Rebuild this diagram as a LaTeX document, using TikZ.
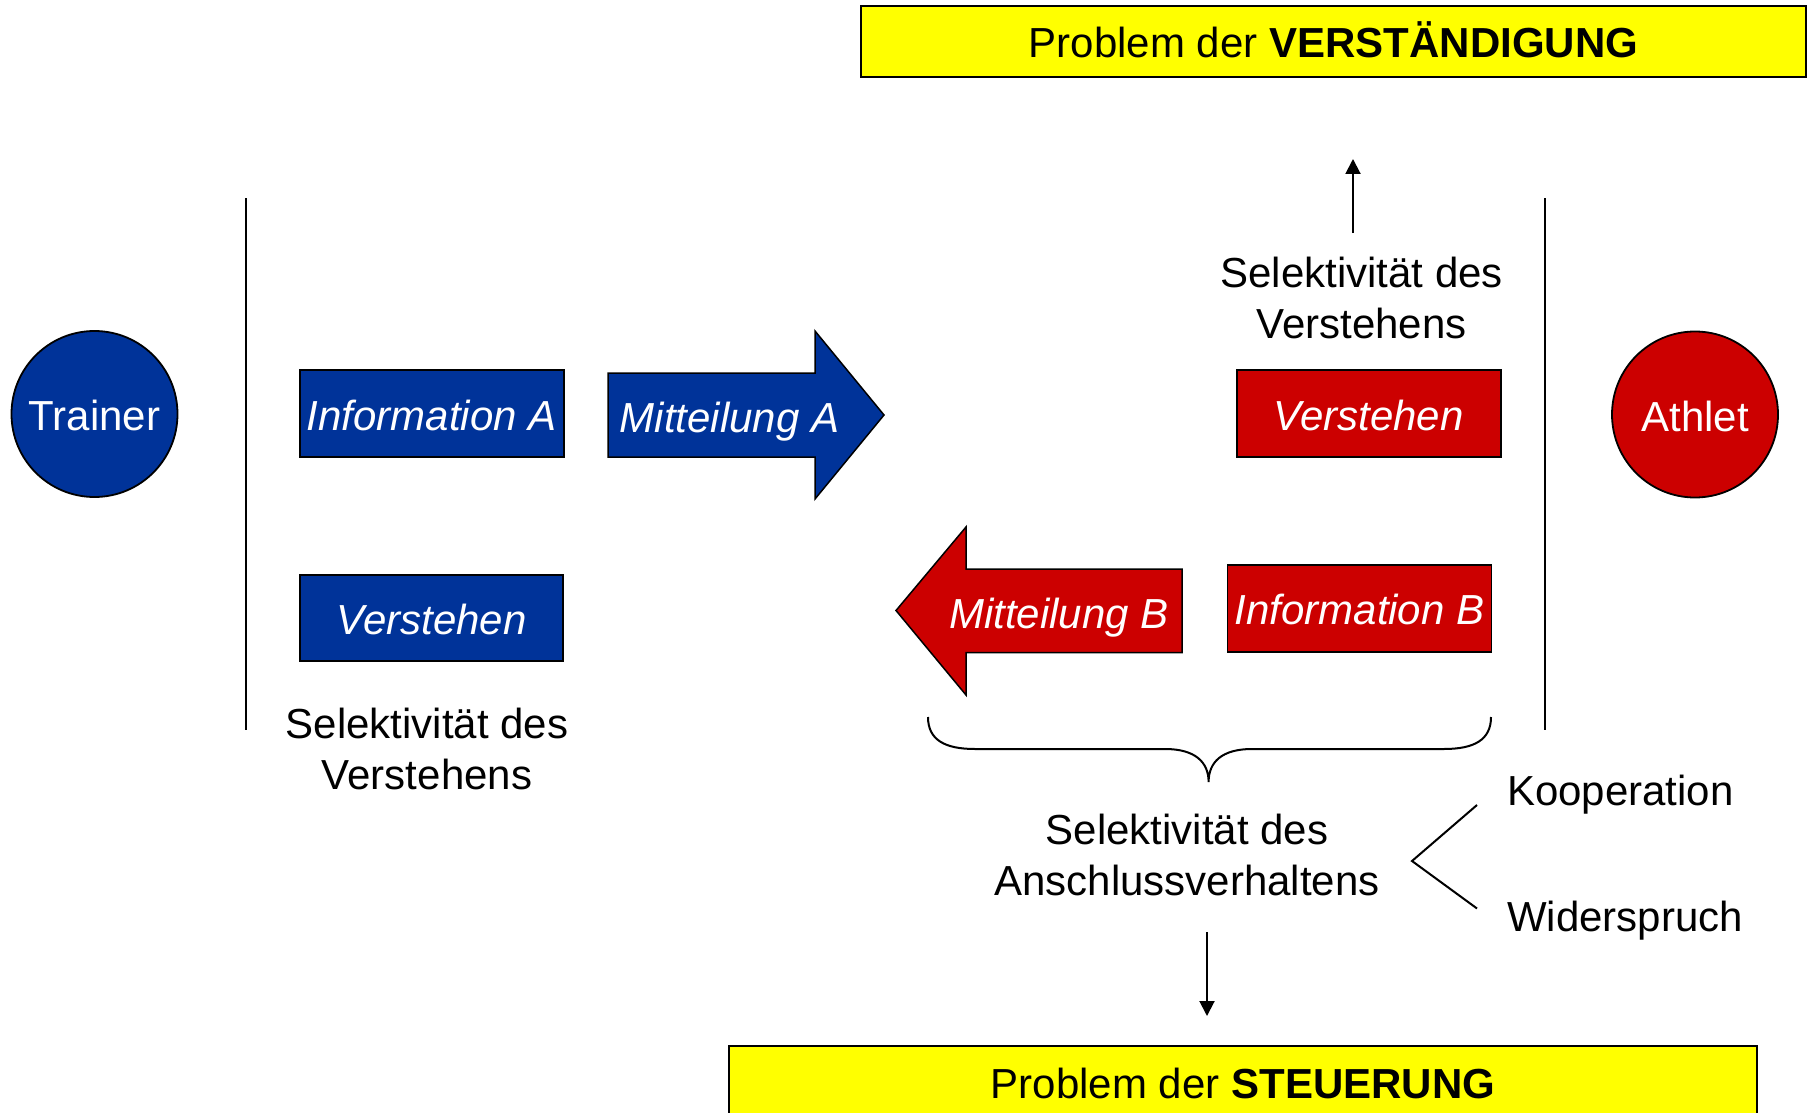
\documentclass[tikz,border=0pt]{standalone}
\usepackage{fontspec}
\setmainfont{Liberation Sans}
\usetikzlibrary{arrows.meta}
\definecolor{cblue}{RGB}{0,51,153}
\definecolor{cred}{RGB}{204,0,0}
\definecolor{cyel}{RGB}{255,255,0}
\begin{document}
\begin{tikzpicture}[x=1pt,y=-1pt,
  lbl/.style={font=\fontsize{42}{51}\selectfont, inner sep=0pt},
  single/.style={text height=33pt, text depth=0pt},
  box/.style={rectangle, draw=black, line width=1.8pt, inner sep=0pt,
    minimum width=264pt, minimum height=87pt, text=white, single,
    font=\fontsize{42}{51}\selectfont\itshape},
  circ/.style={circle, draw=black, line width=1.8pt, inner sep=0pt,
    minimum size=166pt, text=white, single, font=\fontsize{42}{51}\selectfont},
  ybox/.style={rectangle, draw=black, fill=cyel, line width=1.8pt, inner sep=0pt,
    minimum width=945pt, minimum height=71pt, single, font=\fontsize{42}{51}\selectfont},
  arrowshape/.style={draw=black, line width=1.5pt, line join=miter},
  ln/.style={draw=black, line width=2pt},
  arr/.style={ln, -{Triangle[length=15pt,width=15pt]}},
  atext/.style={inner sep=0pt, text=white, single, font=\fontsize{42}{51}\selectfont\itshape}
]
\useasboundingbox (0,0) rectangle (1808,1113);
\clip (0,0) rectangle (1808,1113);
\fill[white] (0,0) rectangle (1808,1113);

% top and bottom problem boxes
\node[ybox] (probV) at (1333.5,41.5) {Problem der \textbf{VERSTÄNDIGUNG}};
\node[ybox, minimum width=1028pt, minimum height=72pt] (probS) at (1243,1082) {Problem der \textbf{STEUERUNG}};

% actors
\node[circ, fill=cblue] (trainer) at (94.5,414) {Trainer};
\node[circ, fill=cred] (athlet) at (1695,414.5) {Athlet};

% separator lines
\coordinate (lT) at (245.6,198);
\coordinate (lB) at (245.6,730);
\coordinate (rT) at (1545,198);
\coordinate (rB) at (1545,730);
\draw[ln] (lT) -- (lB);
\draw[ln] (rT) -- (rB);

% trainer side
\node[box, fill=cblue] (infoA) at (431.7,413.5) {Information A};
\node[box, fill=cblue, minimum width=263pt, minimum height=86pt] (verA) at (431.5,618) {Verstehen};
\node[lbl, align=center] (selA) at (427,749) {Selektivität des\\Verstehens};

% Mitteilung A arrow
\fill[cblue, arrowshape] (608,373) -- (815,373) -- (815,331) -- (884,415) -- (815,499)
  -- (815,457) -- (608,457) -- cycle;
\node[atext] (mitA) at (729.5,415.5) {Mitteilung A};

% athlete side
\node[box, fill=cred] (verB) at (1368.6,413.5) {Verstehen};
\node[box, fill=cred] (infoB) at (1359.5,608.3) {Information B};
\node[lbl, align=center] (selB) at (1361.6,298) {Selektivität des\\Verstehens};

% Mitteilung B arrow
\fill[cred, arrowshape] (1182,569) -- (966,569) -- (966,527) -- (896,610.5) -- (966,695)
  -- (966,652.5) -- (1182,652.5) -- cycle;
\node[atext] (mitB) at (1059,611.5) {Mitteilung B};

% arrow up to Verstaendigung
\coordinate (upS) at (1353,233);
\coordinate (upE) at (1353,159);
\draw[arr] (upS) -- (upE);

% brace
\draw[ln] (928,717) .. controls (928,740) and (945,749) .. (975,749) -- (1165,749)
  .. controls (1195,749) and (1208.6,762) .. (1208.6,782)
  .. controls (1208.6,762) and (1222,749) .. (1252,749) -- (1444,749)
  .. controls (1474,749) and (1491,740) .. (1491,717);

\node[lbl, align=center] (selC) at (1187,855) {Selektivität des\\Anschlussverhaltens};

% alternatives
\node[lbl, anchor=base west] (koop) at (1507,805) {Kooperation};
\node[lbl, anchor=base west] (wider) at (1507,931) {Widerspruch};
\coordinate (cu) at (1477,805);
\coordinate (cv) at (1412,861);
\coordinate (cd) at (1477,908.5);
\draw[ln] (cu) -- (cv) -- (cd);

% arrow down to Steuerung
\coordinate (dnS) at (1207,932);
\coordinate (dnE) at (1207,1016);
\draw[arr] (dnS) -- (dnE);
\end{tikzpicture}
\end{document}
